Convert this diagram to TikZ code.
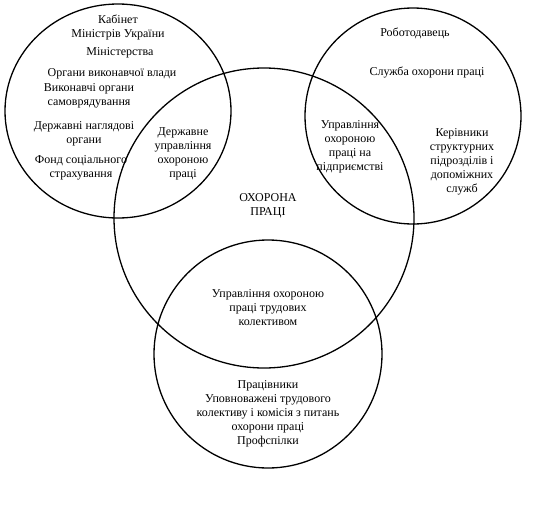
\documentclass[tikz,border=0pt]{standalone}
\usepackage{fontspec}
\setmainfont{Liberation Serif}
\begin{document}
\begin{tikzpicture}[x=1pt,y=-1pt]
\tikzset{
  ring/.style={draw=black, line width=1.3pt},
  lbl/.style={align=center, inner sep=0pt, font=\fontsize{12}{14}\selectfont},
}
\useasboundingbox (0,0) rectangle (540,511);
% circles
\draw[ring] (118,111) ellipse [x radius=113pt, y radius=107pt];
\draw[ring] (413,116) circle [radius=108pt];
\draw[ring] (264,218) circle [radius=150pt];
\draw[ring] (268,354) circle [radius=114pt];
% left circle
\node[lbl] (kab) at (118,27) {Кабінет\\Міністрів України};
\node[lbl] (min) at (120,53) {Міністерства};
\node[lbl] (org) at (112,74) {Органи виконавчої влади};
\node[lbl] (vyk) at (89,96) {Виконавчі органи\\самоврядування};
\node[lbl] (nag) at (84,134) {Державні наглядові\\органи};
\node[lbl] (fond) at (81,168) {Фонд соціального\\страхування};
\node[lbl] (derzh) at (183,154) {Державне\\управління\\охороною\\праці};
% right circle
\node[lbl] (rob) at (415,33) {Роботодавець};
\node[lbl] (sluzh) at (427,72) {Служба охорони праці};
\node[lbl] (upr) at (350,147) {Управління\\охороною\\праці на\\підприємстві};
\node[lbl] (ker) at (462,162) {Керівники\\структурних\\підрозділів і\\допоміжних\\служб};
% centre
\node[lbl] (oh) at (268,206) {ОХОРОНА\\ПРАЦІ};
\node[lbl] (kol) at (268,308) {Управління охороною\\праці трудових\\колективом};
% bottom
\node[lbl] (prac) at (268,414) {Працівники\\Уповноважені трудового\\колективу і комісія з питань\\охорони праці\\Профспілки};
\end{tikzpicture}
\end{document}
